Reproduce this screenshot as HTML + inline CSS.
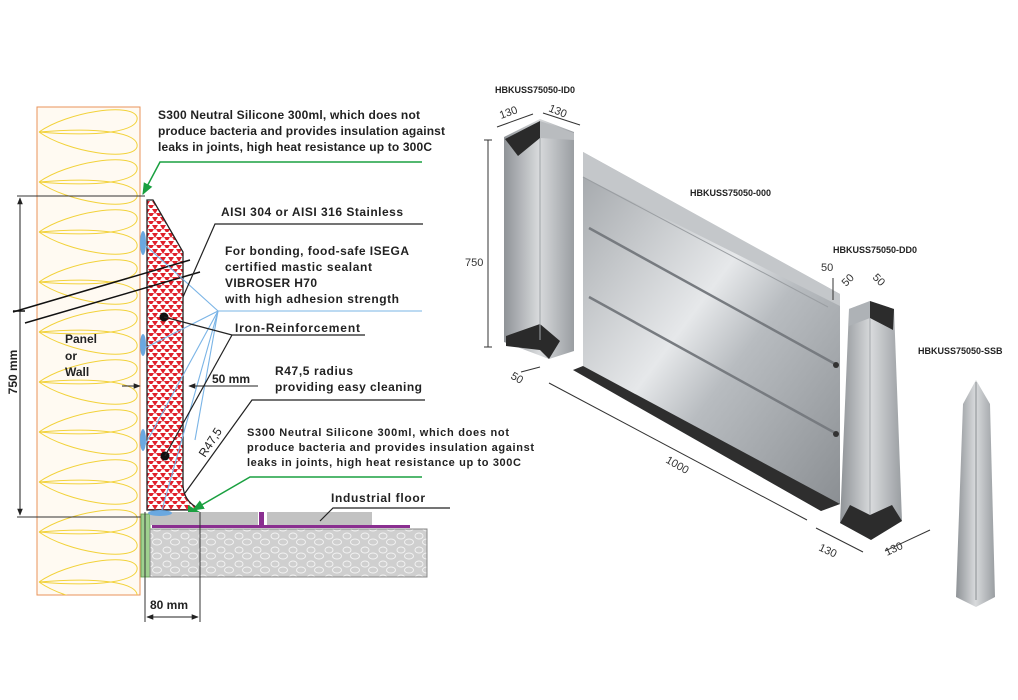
<!DOCTYPE html>
<html><head><meta charset="utf-8"><style>
html,body{margin:0;padding:0;background:#fff;}
svg{display:block;}
text{font-family:"Liberation Sans",sans-serif;}
.b{font-weight:bold;font-size:12px;fill:#222;}
.d{font-size:11px;fill:#333;}
</style></head><body>
<svg width="1018" height="700" viewBox="0 0 1018 700" xmlns="http://www.w3.org/2000/svg">
<defs>
<pattern id="tri" width="8" height="8" patternUnits="userSpaceOnUse">
<rect width="8" height="8" fill="#fff"/>
<polygon points="0,1 6,1 3,6" fill="#e0202a"/>
<polygon points="4,5 10,5 7,10" fill="#e0202a"/>
<polygon points="-4,5 2,5 -1,10" fill="#e0202a"/>
</pattern>
<pattern id="peb" width="18" height="14" patternUnits="userSpaceOnUse">
<rect width="18" height="14" fill="#cfcfcf"/>
<ellipse cx="5" cy="4" rx="4" ry="3" fill="none" stroke="#f2f2f2" stroke-width="1"/>
<ellipse cx="13" cy="10" rx="4.5" ry="3" fill="none" stroke="#f2f2f2" stroke-width="1"/>
</pattern>
<pattern id="loop" width="103" height="50" patternUnits="userSpaceOnUse" x="37" y="107">
<path d="M2,25 C30,5 95,-5 100,10 C103,25 60,30 2,25 C60,20 103,25 100,40 C95,55 30,45 2,25" fill="none" stroke="#f2d23a" stroke-width="1"/>
</pattern>
<linearGradient id="m1" x1="0" y1="0" x2="1" y2="1">
<stop offset="0" stop-color="#9ea2a6"/><stop offset="0.45" stop-color="#e6e8ea"/><stop offset="0.6" stop-color="#b8bcc0"/><stop offset="1" stop-color="#8a8e92"/>
</linearGradient>
<linearGradient id="m2" x1="0" y1="0" x2="1" y2="0">
<stop offset="0" stop-color="#8f9397"/><stop offset="0.5" stop-color="#d8dadc"/><stop offset="1" stop-color="#9a9ea2"/>
</linearGradient>
<marker id="ar" viewBox="0 0 10 10" refX="9" refY="5" markerWidth="7" markerHeight="7" orient="auto-start-reverse"><path d="M0,1 L10,5 L0,9z" fill="#222"/></marker>
<marker id="ag" viewBox="0 0 10 10" refX="9" refY="5" markerWidth="8" markerHeight="8" orient="auto"><path d="M0,1 L10,5 L0,9z" fill="#1aa040"/></marker>
</defs>

<!-- wall -->
<rect x="37" y="107" width="103" height="488" fill="#fffaf2" stroke="#e8935a" stroke-width="1"/>
<rect x="37" y="107" width="103" height="488" fill="url(#loop)"/>

<!-- 750 dim -->
<line x1="17" y1="196" x2="145" y2="196" stroke="#333"/>
<line x1="17" y1="517" x2="145" y2="517" stroke="#333"/>
<line x1="20" y1="198" x2="20" y2="515" stroke="#222" marker-start="url(#ar)" marker-end="url(#ar)"/>
<text class="b" transform="translate(17,372) rotate(-90)" text-anchor="middle">750 mm</text>

<!-- floor -->
<rect x="141" y="514" width="9" height="63" fill="#9fd08f" stroke="#5a9a4a" stroke-width="0.8"/>
<rect x="150" y="529" width="277" height="48" fill="url(#peb)" stroke="#888"/>
<rect x="152" y="525" width="258" height="3" fill="#8a2f90"/>
<rect x="150" y="512" width="108" height="13" fill="#c2c2c2"/>
<rect x="267" y="512" width="105" height="13" fill="#c2c2c2"/>
<rect x="259" y="512" width="5" height="15" fill="#8a2f90"/>

<!-- profile -->
<path d="M147,200 L153,200 L183,252 L183,486 Q184,500 196,507 L196,510 L147,510 Z" fill="url(#tri)" stroke="#222" stroke-width="1.3"/>
<line x1="13" y1="312" x2="190" y2="260" stroke="#111" stroke-width="1.5"/>
<line x1="25" y1="323" x2="200" y2="272" stroke="#111" stroke-width="1.5"/>
<line x1="13" y1="311" x2="25" y2="311" stroke="#111" stroke-width="1.5"/>

<g fill="#6aa8e0">
<ellipse cx="143" cy="243" rx="3" ry="12"/>
<ellipse cx="143" cy="345" rx="3" ry="11"/>
<ellipse cx="143" cy="440" rx="3" ry="11"/>
<ellipse cx="160" cy="513" rx="12" ry="3"/>
</g>
<g stroke="#7ab4e6" stroke-width="1.1" fill="none">
<line x1="218" y1="311" x2="422" y2="311"/>
<line x1="218" y1="311" x2="145" y2="245"/>
<line x1="218" y1="311" x2="145" y2="348"/>
<line x1="218" y1="311" x2="145" y2="445"/>
<line x1="218" y1="311" x2="162" y2="510"/>
<line x1="218" y1="311" x2="195" y2="440"/>
</g>

<polyline points="422,162 160,162 143,194" fill="none" stroke="#1aa040" stroke-width="1.5" marker-end="url(#ag)"/>
<polyline points="422,477 250,477 193,510" fill="none" stroke="#1aa040" stroke-width="1.5" marker-end="url(#ag)"/>
<polygon points="188,505 200,512 188,512" fill="#1aa040"/>

<circle cx="164" cy="317" r="4.5" fill="#111"/>
<circle cx="165" cy="456" r="4.5" fill="#111"/>
<polyline points="164,317 232,335 365,335" fill="none" stroke="#222" stroke-width="1.2"/>
<line x1="232" y1="335" x2="165" y2="456" stroke="#222" stroke-width="1.2"/>
<polyline points="183,297 215,224 423,224" fill="none" stroke="#222" stroke-width="1.2"/>
<polyline points="185,493 252,400 425,400" fill="none" stroke="#222" stroke-width="1.2"/>
<polyline points="320,521 333,508 450,508" fill="none" stroke="#222" stroke-width="1.2"/>
<line x1="122" y1="386" x2="140" y2="386" stroke="#222" marker-end="url(#ar)"/>
<line x1="258" y1="386" x2="189" y2="386" stroke="#222" marker-end="url(#ar)"/>
<line x1="145" y1="512" x2="145" y2="622" stroke="#333"/>
<line x1="200" y1="512" x2="200" y2="622" stroke="#333"/>
<line x1="147" y1="617" x2="198" y2="617" stroke="#222" marker-start="url(#ar)" marker-end="url(#ar)"/>

<text class="b" x="158" y="119" textLength="262">S300 Neutral Silicone 300ml, which does not</text>
<text class="b" x="158" y="135" textLength="287">produce bacteria and provides insulation against</text>
<text class="b" x="158" y="151" textLength="274">leaks in joints, high heat resistance up to 300C</text>
<text class="b" x="221" y="216" textLength="182">AISI 304 or AISI 316 Stainless</text>
<text class="b" x="225" y="255" textLength="184">For bonding, food-safe ISEGA</text>
<text class="b" x="225" y="271" textLength="147">certified mastic sealant</text>
<text class="b" x="225" y="287" textLength="92">VIBROSER H70</text>
<text class="b" x="225" y="303" textLength="174">with high adhesion strength</text>
<text class="b" x="235" y="332" textLength="125">Iron-Reinforcement</text>
<text class="b" x="65" y="343">Panel</text>
<text class="b" x="65" y="360">or</text>
<text class="b" x="65" y="376">Wall</text>
<text class="b" x="212" y="383">50 mm</text>
<text class="b" x="275" y="375" textLength="78">R47,5 radius</text>
<text class="b" x="275" y="391" textLength="147">providing easy cleaning</text>
<text transform="translate(205,458) rotate(-57)" style="fill:#222;font-size:12px">R47,5</text>
<text class="b" x="247" y="436" textLength="262" style="font-size:11px">S300 Neutral Silicone 300ml, which does not</text>
<text class="b" x="247" y="451" textLength="287" style="font-size:11px">produce bacteria and provides insulation against</text>
<text class="b" x="247" y="466" textLength="274" style="font-size:11px">leaks in joints, high heat resistance up to 300C</text>
<text class="b" x="331" y="502" textLength="94">Industrial floor</text>
<text class="b" x="150" y="609">80 mm</text>

<!-- ID0 -->
<text class="b" x="495" y="93" style="font-size:9px">HBKUSS75050-ID0</text>
<polygon points="504,137 540,119 574,132 574,351 549,359 504,342" fill="url(#m2)"/>
<polygon points="505,139 540,121 540,138 518,156" fill="#2a2a2a"/>
<polygon points="540,121 574,133 574,140 540,138" fill="#b9bcbf"/>
<polygon points="506,336 540,324 560,341 549,359 540,350 506,346" fill="#2a2a2a"/>
<line x1="540" y1="138" x2="540" y2="340" stroke="#a0a4a8"/>
<line x1="488" y1="140" x2="488" y2="347" stroke="#333"/>
<line x1="484" y1="140" x2="492" y2="140" stroke="#333"/>
<line x1="484" y1="347" x2="492" y2="347" stroke="#333"/>
<text class="d" x="465" y="266">750</text>
<polyline points="497,127 533,114" fill="none" stroke="#333"/>
<polyline points="543,113 580,125" fill="none" stroke="#333"/>
<text class="d" transform="translate(501,119) rotate(-20)">130</text>
<text class="d" transform="translate(548,111) rotate(22)">130</text>
<line x1="521" y1="372" x2="540" y2="367" stroke="#333"/>
<text class="d" transform="translate(510,378) rotate(30)">50</text>

<!-- panel 000 -->
<polygon points="583,152 840,294 840,504 821,511 573,370 583,366" fill="url(#m1)"/>
<polygon points="583,152 840,294 840,306 583,177" fill="#c4c7ca"/>
<polygon points="573,370 583,366 840,504 821,511" fill="#2e2e2e"/>
<line x1="583" y1="177" x2="828" y2="307" stroke="#9a9ea2"/>
<line x1="589" y1="228" x2="837" y2="365" stroke="#777b80" stroke-width="2.5"/>
<line x1="589" y1="297" x2="837" y2="434" stroke="#777b80" stroke-width="2.5"/>
<circle cx="836" cy="365" r="3" fill="#333"/>
<circle cx="836" cy="434" r="3" fill="#333"/>
<text class="b" x="690" y="196" style="font-size:9px">HBKUSS75050-000</text>
<line x1="549" y1="383" x2="807" y2="520" stroke="#333"/>
<text class="d" transform="translate(665,462) rotate(30)">1000</text>
<text class="d" x="821" y="271">50</text>
<line x1="833" y1="278" x2="833" y2="300" stroke="#333"/>

<!-- DD0 -->
<text class="b" x="833" y="253" style="font-size:9px">HBKUSS75050-DD0</text>
<polygon points="849,309 870,301 894,309 902,521 871,540 840,523" fill="url(#m2)"/>
<polygon points="870,301 894,309 893,330 870,318" fill="#2c2c2c"/>
<polygon points="849,309 870,301 870,318 849,326" fill="#aeb2b6"/>
<polygon points="840,523 850,505 870,515 892,505 902,521 871,540" fill="#2c2c2c"/>
<line x1="870" y1="318" x2="870" y2="515" stroke="#a4a8ac"/>
<text class="d" transform="translate(846,287) rotate(-45)">50</text>
<text class="d" transform="translate(872,278) rotate(45)">50</text>
<line x1="816" y1="528" x2="863" y2="552" stroke="#333"/>
<line x1="885" y1="551" x2="930" y2="530" stroke="#333"/>
<text class="d" transform="translate(818,550) rotate(25)">130</text>
<text class="d" transform="translate(887,556) rotate(-25)">130</text>

<!-- SSB -->
<text class="b" x="918" y="354" style="font-size:9px">HBKUSS75050-SSB</text>
<polygon points="976,380 990,404 995,597 976,607 956,597 963,404" fill="url(#m2)"/>
<line x1="976" y1="382" x2="976" y2="600" stroke="#8a8e92"/>
</svg>
</body></html>
